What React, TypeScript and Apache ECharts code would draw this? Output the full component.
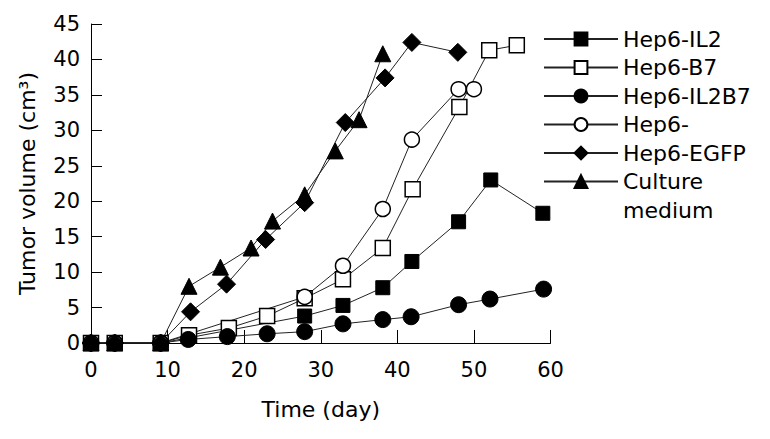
import React, { useEffect, useRef } from "react";
import * as echarts from "echarts";

const seriesNames = ["Hep6-IL2", "Hep6-B7", "Hep6-IL2B7", "Hep6-", "Hep6-EGFP", "Culture medium"];

const il2Days = [0, 3.1, 9.1, 27.9, 32.9, 38.1, 41.9, 48.0, 52.2, 59.0];
const il2Vals = [0, 0, 0, 3.8, 5.3, 7.8, 11.5, 17.1, 23.0, 18.3];

const b7Days = [0, 3.1, 9.1, 12.8, 18.0, 23.0, 27.9, 32.9, 38.1, 42.0, 48.1, 52.0, 55.6];
const b7Vals = [0, 0, 0, 1.1, 2.1, 3.8, 6.3, 9.0, 13.4, 21.7, 33.3, 41.3, 42.0];

const il2b7Days = [0, 3.1, 9.1, 12.7, 17.8, 23.0, 27.9, 32.9, 38.1, 41.8, 48.0, 52.1, 59.1];
const il2b7Vals = [0, 0, 0, 0.5, 0.9, 1.3, 1.6, 2.7, 3.3, 3.7, 5.4, 6.2, 7.6];

const hep6Days = [0, 3.1, 9.1, 27.9, 32.9, 38.1, 41.9, 48.0, 50.0];
const hep6Vals = [0, 0, 0, 6.5, 10.9, 18.9, 28.7, 35.8, 35.8];

const egfpDays = [0, 3.1, 9.1, 13.0, 17.7, 22.8, 27.9, 33.2, 38.4, 41.9, 47.9];
const egfpVals = [0, 0, 0, 4.4, 8.3, 14.6, 19.8, 31.1, 37.4, 42.4, 41.0];

const cultureDays = [0, 3.1, 9.1, 12.8, 16.9, 20.9, 23.7, 27.9, 31.9, 35.0, 38.1];
const cultureVals = [0, 0, 0, 8.0, 10.7, 13.4, 17.2, 20.9, 27.1, 31.5, 40.8];

const xTicks = [0, 10, 20, 30, 40, 50, 60];
const yTicks = [0, 5, 10, 15, 20, 25, 30, 35, 40, 45];

const FONT = "DejaVu Sans";

function pairs(xs: number[], ys: number[]) {
  return xs.map((x, i) => [x, ys[i]]);
}

export default function App() {
  const ref = useRef<HTMLDivElement>(null);
  useEffect(() => {
    if (!ref.current) return;
    const chart = echarts.init(ref.current, null, { renderer: "svg" });
    const lineStyle = { color: "#222", width: 1 };
    const filled = { color: "#000", borderColor: "#000", borderWidth: 1 };
    const hollow = { color: "#fff", borderColor: "#000", borderWidth: 1.5 };
    const mk = (
      name: string,
      data: number[][],
      symbol: string,
      size: number | number[],
      itemStyle: any
    ) => ({
      name,
      type: "line",
      data,
      symbol,
      symbolSize: size,
      showAllSymbol: true,
      lineStyle,
      itemStyle,
      emphasis: { disabled: true },
    });
    chart.setOption({
      animation: false,
      backgroundColor: "#fff",
      textStyle: { fontFamily: FONT, color: "#000" },
      grid: { left: 83, right: 211.5, top: 16, bottom: 88 },
      xAxis: {
        type: "value",
        min: xTicks[0],
        max: xTicks[xTicks.length - 1],
        interval: 10,
        name: "Time (day)",
        nameLocation: "middle",
        nameGap: 55,
        nameTextStyle: { fontFamily: FONT, fontSize: 22, color: "#000" },
        axisLine: { lineStyle: { color: "#000", width: 1 } },
        axisTick: { inside: true, length: 13, lineStyle: { color: "#000" } },
        axisLabel: { fontFamily: FONT, fontSize: 21, color: "#000", margin: 16 },
        splitLine: { show: false },
      },
      yAxis: {
        type: "value",
        min: yTicks[0],
        max: yTicks[yTicks.length - 1],
        interval: 5,
        name: "Tumor volume (cm³)",
        nameLocation: "middle",
        nameGap: 53,
        nameTextStyle: { fontFamily: FONT, fontSize: 22, color: "#000" },
        axisLine: { show: true, lineStyle: { color: "#000", width: 1 } },
        axisTick: { show: true, inside: true, length: 11, lineStyle: { color: "#000" } },
        axisLabel: { fontFamily: FONT, fontSize: 21, color: "#000", margin: 11 },
        splitLine: { show: false },
      },
      legend: {
        orient: "vertical",
        left: 535,
        top: 20,
        padding: 0,
        itemWidth: 74,
        itemHeight: 16,
        itemGap: 6.5,
        selectedMode: false,
        textStyle: { fontFamily: FONT, fontSize: 22, color: "#000" },
        formatter: (n: string) => (n === "Culture medium" ? "Culture" : n),
        data: seriesNames,
      },
      graphic: [
        {
          type: "text",
          left: 615,
          top: 191,
          style: { text: "medium", fontFamily: FONT, fontSize: 22, fill: "#000" },
        },
      ],
      series: [
        mk(seriesNames[0], pairs(il2Days, il2Vals), "rect", 14, filled),
        mk(seriesNames[1], pairs(b7Days, b7Vals), "rect", 15, hollow),
        mk(seriesNames[2], pairs(il2b7Days, il2b7Vals), "circle", 16, filled),
        mk(seriesNames[3], pairs(hep6Days, hep6Vals), "circle", 15, hollow),
        mk(seriesNames[4], pairs(egfpDays, egfpVals), "diamond", 18, filled),
        mk(seriesNames[5], pairs(cultureDays, cultureVals), "triangle", 16, filled),
      ],
    });
    return () => chart.dispose();
  }, []);
  return <div ref={ref} style={{ width: 754, height: 423 }} />;
}
